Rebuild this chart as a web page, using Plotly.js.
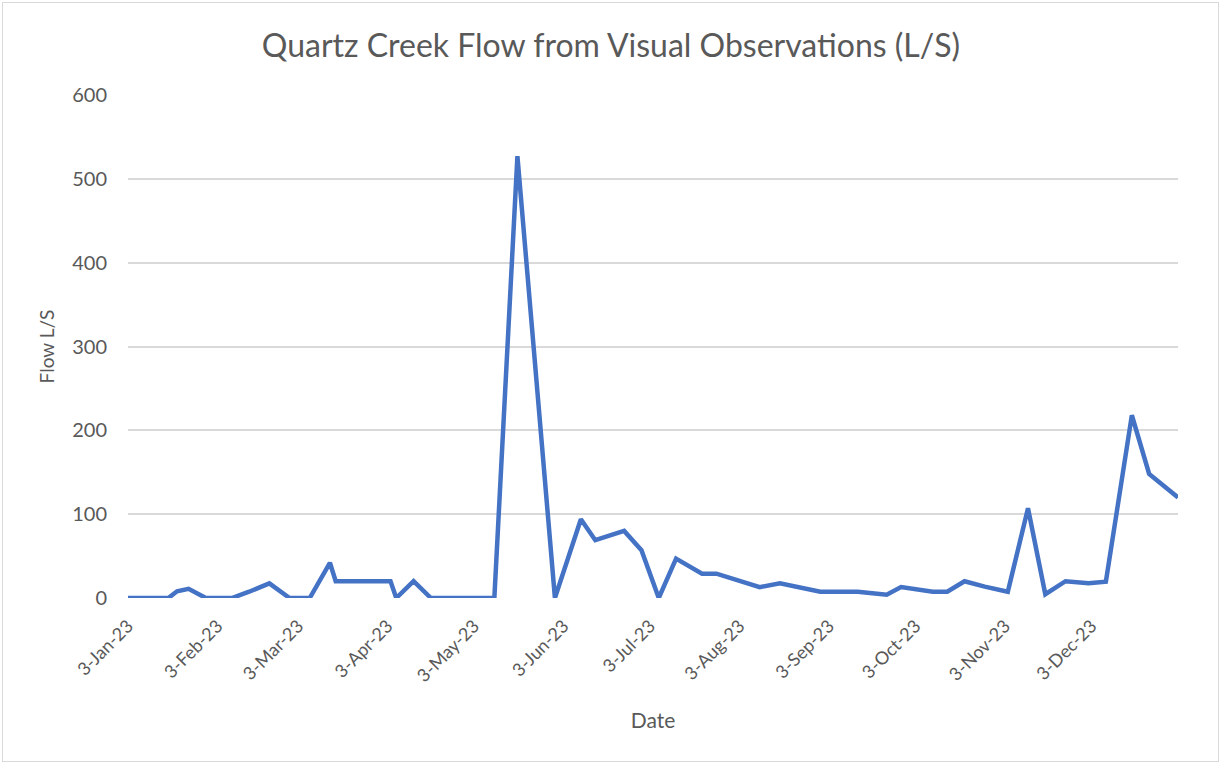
<!DOCTYPE html>
<html>
<head>
<meta charset="utf-8">
<script src="https://cdn.plot.ly/plotly-3.0.1.min.js"></script>
<style>
  html, body { margin: 0; padding: 0; background: #fff; }
  #frame { position: absolute; left: 2px; top: 2px; width: 1215px; height: 758px; border: 1.5px solid #d9d9d9; }
  #chart { position: absolute; left: 0; top: 0; width: 1222px; height: 765px; }
</style>
</head>
<body>
<div id="frame"></div>
<div id="chart"></div>
<script>
const dates = [
  '2023-01-03','2023-01-17','2023-01-20','2023-01-24','2023-01-30','2023-02-08',
  '2023-02-14','2023-02-21','2023-02-28','2023-03-07','2023-03-14','2023-03-16',
  '2023-04-04','2023-04-06','2023-04-12','2023-04-18','2023-05-10','2023-05-18',
  '2023-05-31','2023-06-09','2023-06-14','2023-06-24','2023-06-30','2023-07-06',
  '2023-07-12','2023-07-21','2023-07-26','2023-08-10','2023-08-17','2023-08-31',
  '2023-09-13','2023-09-23','2023-09-28','2023-10-09','2023-10-14','2023-10-20',
  '2023-10-27','2023-11-04','2023-11-11','2023-11-17','2023-11-24','2023-12-02',
  '2023-12-08','2023-12-17','2023-12-23','2024-01-02'
];
const flow = [
  0, 0, 8, 11, 0, 0,
  7.5, 17.5, 0, 0, 42, 20,
  20, 0, 20, 0, 0, 527,
  0, 94, 69, 80, 57, 0,
  47, 29, 29, 13, 17.5, 7.5,
  7.5, 4, 13, 7.5, 7.5, 20,
  13.5, 7.5, 107, 4.5, 20, 17.5,
  19.5, 218, 148, 120
];
const tickDates = ['2023-01-03','2023-02-03','2023-03-03','2023-04-03','2023-05-03','2023-06-03',
                   '2023-07-03','2023-08-03','2023-09-03','2023-10-03','2023-11-03','2023-12-03'];
const tickText = ['3-Jan-23','3-Feb-23','3-Mar-23','3-Apr-23','3-May-23','3-Jun-23',
                  '3-Jul-23','3-Aug-23','3-Sep-23','3-Oct-23','3-Nov-23','3-Dec-23'];
const yTicks = [0, 100, 200, 300, 400, 500, 600];

const FONT = 'Lato, "Open Sans", "Noto Sans", sans-serif';
const TXT = '#595959';

Plotly.newPlot('chart', [{
  x: dates,
  y: flow,
  type: 'scatter',
  mode: 'lines',
  line: { color: '#4472C4', width: 4.5 },
  hoverinfo: 'x+y'
}], {
  width: 1222,
  height: 765,
  paper_bgcolor: 'rgba(0,0,0,0)',
  plot_bgcolor: 'rgba(0,0,0,0)',
  margin: { l: 128, r: 44, t: 95, b: 167 },
  showlegend: false,
  title: {
    text: 'Quartz Creek Flow from Visual Observations (L/S)',
    font: { family: FONT, size: 32, color: TXT },
    x: 0.5, xanchor: 'center', y: 0.94, yanchor: 'middle'
  },
  xaxis: {
    type: 'date',
    range: ['2023-01-03', '2024-01-02'],
    tickvals: tickDates,
    ticktext: tickText,
    tickangle: -45,
    tickfont: { family: FONT, size: 18, color: TXT },
    showgrid: false,
    zeroline: false,
    showline: false,
    ticks: '',
    ticklabelstandoff: 13,
    title: { text: 'Date', font: { family: FONT, size: 21, color: TXT }, standoff: 28 }
  },
  yaxis: {
    range: [0, 600],
    tickvals: yTicks,
    tickfont: { family: FONT, size: 20, color: TXT },
    showgrid: true,
    gridcolor: '#d9d9d9',
    gridwidth: 1.5,
    zeroline: false,
    showline: false,
    ticks: '',
    ticklabelstandoff: 20,
    title: { text: 'Flow L/S', font: { family: FONT, size: 19, color: TXT }, standoff: 12 }
  }
}, { displayModeBar: false });
</script>
</body>
</html>
